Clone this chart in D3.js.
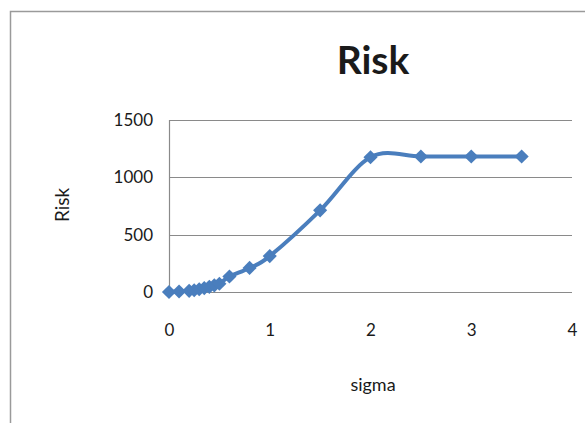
<!DOCTYPE html>
<html>
<head>
<meta charset="utf-8">
<script src="https://cdn.jsdelivr.net/npm/d3@7"></script>
<style>
  html, body { margin: 0; padding: 0; background: #fff; }
  svg { display: block; }
  text { font-family: Lato, "Open Sans", sans-serif; fill: #1a1a1a; }
</style>
</head>
<body>
<svg id="chart" width="585" height="423"></svg>
<script>
// Risk as a function of sigma
const sigma = [0, 0.1, 0.2, 0.25, 0.3, 0.35, 0.4, 0.45, 0.5, 0.6, 0.8, 1, 1.5, 2, 2.5, 3, 3.5];
const risk  = [0, 4, 10, 15, 24, 34, 45, 58, 72, 135, 210, 313, 712, 1175, 1182, 1182, 1182];
const xTicks = [0, 1, 2, 3, 4];
const yTicks = [0, 500, 1000, 1500];

const svg = d3.select("#chart");
const lineColor = "#4a7ebd";
const gridColor = "#8a8a8a";
const font = "Lato, 'Open Sans', sans-serif";

// chart frame
svg.append("rect")
  .attr("x", 10.5).attr("y", 11.5)
  .attr("width", 640).attr("height", 500)
  .attr("fill", "none").attr("stroke", "#9a9a9a").attr("stroke-width", 1.5);

const x = d3.scaleLinear().domain([0, 4]).range([169, 572]);
const y = d3.scaleLinear().domain([0, 1500]).range([292, 120]);

// horizontal gridlines
svg.append("g").selectAll("line").data(yTicks).join("line")
  .attr("x1", x(0)).attr("x2", x(4))
  .attr("y1", d => Math.round(y(d)) + 0.5).attr("y2", d => Math.round(y(d)) + 0.5)
  .attr("stroke", gridColor).attr("stroke-width", 1.2);

// vertical axis line
svg.append("line")
  .attr("x1", x(0) + 0.5).attr("x2", x(0) + 0.5)
  .attr("y1", y(1500)).attr("y2", y(0))
  .attr("stroke", gridColor).attr("stroke-width", 1.2);

// y axis labels
const yAxis = d3.axisLeft(y).tickValues(yTicks).tickSize(0).tickPadding(16).tickFormat(d3.format("d"));
const gy = svg.append("g").attr("transform", `translate(${x(0)},0)`).call(yAxis);
gy.select(".domain").remove();
gy.selectAll("text").style("font-family", font)
  .style("font-size", "17px").attr("fill", "#1a1a1a");

// x axis labels
const xAxis = d3.axisBottom(x).tickValues(xTicks).tickSize(0).tickPadding(32).tickFormat(d3.format("d"));
const gx = svg.append("g").attr("transform", `translate(0,${y(0)})`).call(xAxis);
gx.select(".domain").remove();
gx.selectAll("text").style("font-family", font)
  .style("font-size", "17px").attr("fill", "#1a1a1a");

// smoothed series line
const pts = sigma.map((s, i) => [s, risk[i]]);
const line = d3.line().x(d => x(d[0])).y(d => y(d[1])).curve(d3.curveCardinal.tension(0));
svg.append("path").datum(pts)
  .attr("d", line)
  .attr("fill", "none").attr("stroke", lineColor).attr("stroke-width", 4)
  .attr("stroke-linejoin", "round");

// diamond markers
const diamond = d3.symbol().type(d3.symbolSquare).size(100);
svg.append("g").selectAll("path").data(pts).join("path")
  .attr("d", diamond)
  .attr("transform", d => `translate(${x(d[0])},${y(d[1])}) rotate(45)`)
  .attr("fill", lineColor);

// titles
svg.append("text").attr("x", 373).attr("y", 74).attr("text-anchor", "middle")
  .style("font-size", "39px").style("font-weight", "bold").text("Risk");
svg.append("text").attr("x", 373).attr("y", 391).attr("text-anchor", "middle")
  .style("font-size", "18px").text("sigma");
svg.append("text").attr("transform", "translate(69,205) rotate(-90)")
  .attr("text-anchor", "middle").style("font-size", "19px").text("Risk");
</script>
</body>
</html>
